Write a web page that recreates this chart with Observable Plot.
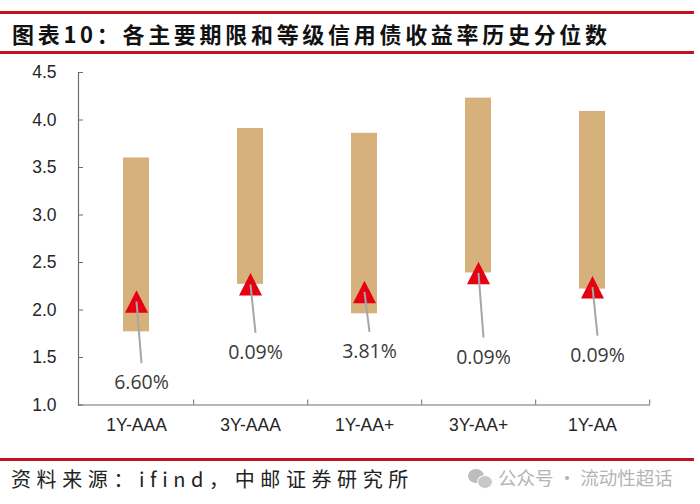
<!DOCTYPE html>
<html>
<head>
<meta charset="utf-8">
<script src="https://cdn.jsdelivr.net/npm/d3@7"></script>
<script src="https://cdn.jsdelivr.net/npm/@observablehq/plot@0.6"></script>
<style>
  html, body { margin: 0; padding: 0; background: #fff; }
  #page { position: relative; width: 700px; height: 504px; overflow: hidden; background: #fff; }
  .redline { position: absolute; left: 0; width: 694px; height: 3px; background: #c0141c; }
  #title { position: absolute; left: 12px; top: 18px; font-family: "Noto Sans CJK SC", sans-serif; font-weight: 700; font-size: 22px; letter-spacing: 3.7px; color: #111; line-height: 30px; white-space: nowrap; }
  #chart { position: absolute; left: 0; top: 60px; }
  #source { position: absolute; left: 11px; top: 465px; font-family: "Noto Sans CJK SC", sans-serif; font-size: 20px; letter-spacing: 5.6px; color: #222; line-height: 28px; white-space: nowrap; }
  #mark { position: absolute; left: 468px; top: 463px; font-family: "Noto Sans CJK SC", sans-serif; font-size: 18.5px; color: #b4b4b4; line-height: 28px; white-space: nowrap; }
  #mark .icon { display: inline-block; position: relative; width: 24px; height: 18px; vertical-align: -2px; margin-right: 6px; }
  #mark .icon i { position: absolute; border-radius: 50%; background: #bdbdbd; }
</style>
</head>
<body>
<div id="page">
  <div class="redline" style="top:11px"></div>
  <div id="title">图表10：各主要期限和等级信用债收益率历史分位数</div>
  <div class="redline" style="top:51px"></div>
  <div id="chart"></div>
  <div class="redline" style="top:458px; height:2.5px"></div>
  <div id="source">资料来源：ifind，中邮证券研究所</div>
  <div id="mark"><span class="icon"><i style="left:0;top:0;width:16px;height:14px"></i><i style="left:9px;top:6px;width:14px;height:12px;background:#c8c8c8;border:1px solid #fff"></i></span>公众号 · 流动性超话</div>
</div>
<script>
// ---- data ----
const categories = ["1Y-AAA", "3Y-AAA", "1Y-AA+", "3Y-AA+", "1Y-AA"];
const yieldMin   = [1.77, 2.27, 1.96, 2.39, 2.22];
const yieldMax   = [3.60, 3.91, 3.86, 4.23, 4.09];
const yieldNow   = [2.09, 2.27, 2.19, 2.39, 2.24];
const percentile = [6.60, 0.09, 3.81, 0.09, 0.09];
const labelAt    = [1.23, 1.55, 1.56, 1.50, 1.52];   // where each percentile label sits (yield units)
const yTicks     = [1.0, 1.5, 2.0, 2.5, 3.0, 3.5, 4.0, 4.5];

const rows = categories.map((c, i) => ({
  cat: c, lo: yieldMin[i], hi: yieldMax[i], now: yieldNow[i],
  pct: percentile[i], lab: labelAt[i]
}));

// ---- layout ----
const W = 700, H = 395, mL = 78, mR = 50, mT = 12, mB = 50.5;
const innerW = W - mL - mR, innerH = H - mT - mB;
const step = innerW / categories.length;
const axisColor = "#6e6e6e";

// isoceles triangle symbol centred on its bounding box
const tri = {
  draw(ctx, size) {
    const r = Math.sqrt(size / Math.PI);
    ctx.moveTo(0, -1.25 * r);
    ctx.lineTo(1.28 * r, 1.25 * r);
    ctx.lineTo(-1.28 * r, 1.25 * r);
    ctx.closePath();
  }
};

// leader line curve: slight slant toward the label
function slant(context) {
  let n = 0;
  return {
    areaStart() {}, areaEnd() {},
    lineStart() { n = 0; }, lineEnd() {},
    point(x, y) { if (n++ === 0) context.moveTo(x, y); else context.lineTo(x + 5, y); }
  };
}

const chart = Plot.plot({
  width: W, height: H,
  marginLeft: mL, marginRight: mR, marginTop: mT, marginBottom: mB,
  style: { background: "transparent", overflow: "visible" },
  x: { domain: categories, paddingInner: 0.77, paddingOuter: 0.385, label: null },
  y: { domain: [1, 4.5], label: null },
  marks: [
    Plot.barY(rows, { x: "cat", y1: "lo", y2: "hi", fill: "#d7b17b" }),
    Plot.ruleY([1], { stroke: axisColor, strokeWidth: 1.2 }),
    Plot.frame({ anchor: "left", stroke: axisColor, strokeWidth: 1.2 }),
    Plot.tickY(yTicks, { y: d => d, insetRight: innerW - 5, stroke: axisColor }),
    Plot.ruleX(categories, { x: d => d, dx: step / 2, insetTop: innerH - 5, stroke: axisColor }),
    Plot.axisY({ ticks: yTicks, tickSize: 0, tickPadding: 22, tickFormat: d3.format(".1f"),
      fontSize: 17.5, fontFamily: "Liberation Sans, Arial, sans-serif", fill: "#262626", label: null }),
    Plot.axisX({ tickSize: 0, tickPadding: 14, fontSize: 17.5,
      fontFamily: "Liberation Sans, Arial, sans-serif", fill: "#262626", label: null }),
    Plot.dot(rows, { x: "cat", y: "now", symbol: tri, r: 9, fill: "#e60012", stroke: "none" }),
    Plot.link(rows, { x1: "cat", x2: "cat", y1: "now", y2: d => d.lab + 0.21,
      curve: slant, stroke: "#a6a6a6", strokeWidth: 2 }),
    Plot.text(rows, { x: "cat", y: "lab", text: d => d.pct.toFixed(2) + "%", dx: 5,
      fontSize: 19.5, fontFamily: "Open Sans, Noto Sans, sans-serif", fill: "#3a3a3a" })
  ]
});
document.getElementById("chart").appendChild(chart);
</script>
</body>
</html>
